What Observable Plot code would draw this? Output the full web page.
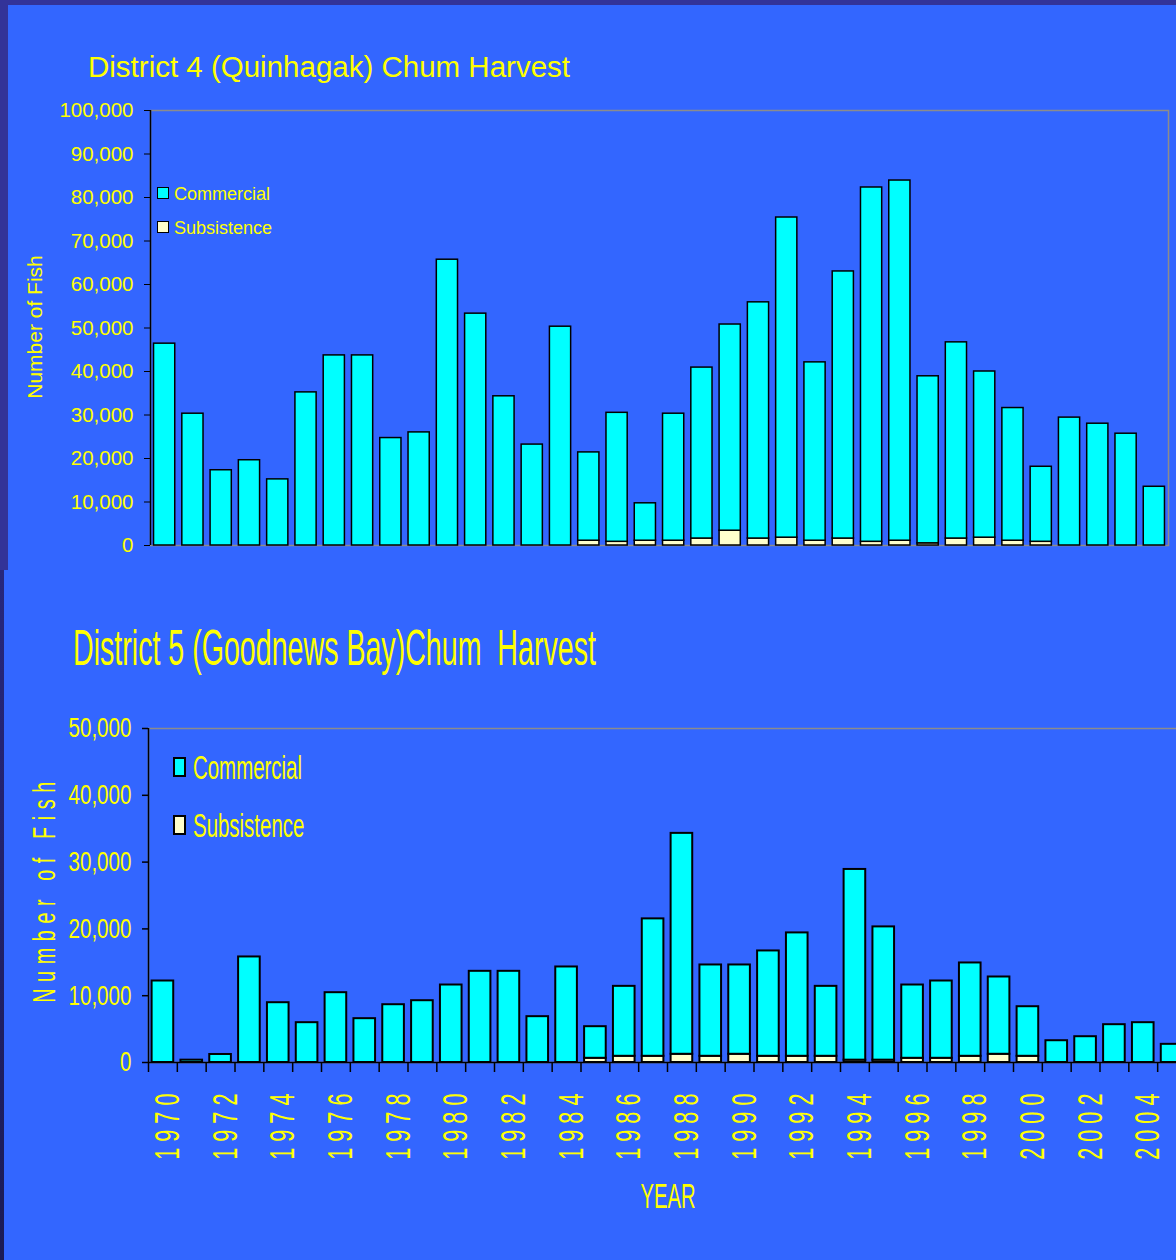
<!DOCTYPE html>
<html>
<head>
<meta charset="utf-8">
<script src="https://cdn.jsdelivr.net/npm/d3@7"></script>
<script src="https://cdn.jsdelivr.net/npm/@observablehq/plot@0.6"></script>
<style>
  html, body { margin: 0; padding: 0; }
  body { width: 1176px; height: 1260px; overflow: hidden; position: relative; background: #333399;
         font-family: "Liberation Sans", Arial, sans-serif; }
  #topPanel { position: absolute; left: 8px; top: 5px; width: 1168px; height: 565px; background: #3366FF; }
  #botStrip { position: absolute; left: 0; top: 570px; width: 4px; height: 690px; background: linear-gradient(#27277d, #1b1b55); }
  #botPanel { position: absolute; left: 4px; top: 570px; width: 1172px; height: 690px; background: #3366FF; }
  #c4 { position: absolute; left: 0; top: 0; }
  #c5 { position: absolute; left: 0; top: 570px; }
  .lbl { position: absolute; white-space: pre; color: #FFFF00; margin: 0; padding: 0; }
  .sw { position: absolute; box-sizing: border-box; border: 1px solid #000; }
</style>
</head>
<body>
<div id="topPanel"></div>
<div id="botStrip"></div>
<div id="botPanel"></div>
<div id="c4"></div>
<div id="c5"></div>
<script>
// ---------------- data ----------------
const years = [1970, 1971, 1972, 1973, 1974, 1975, 1976, 1977, 1978, 1979,
               1980, 1981, 1982, 1983, 1984, 1985, 1986, 1987, 1988, 1989,
               1990, 1991, 1992, 1993, 1994, 1995, 1996, 1997, 1998, 1999,
               2000, 2001, 2002, 2003, 2004, 2005];
const labelYears = [1970, 1972, 1974, 1976, 1978, 1980, 1982, 1984, 1986, 1988,
                    1990, 1992, 1994, 1996, 1998, 2000, 2002, 2004];
const types = ["Commercial", "Subsistence"];
const typeColors = ["#00FFFF", "#FFFFCC"];
const stackOrder = ["Subsistence", "Commercial"];

// District 4 (Quinhagak)
const d4Commercial = [46400, 30300, 17300, 19600, 15200, 35200, 43700, 43700, 24700, 26000,
                      65700, 53300, 34300, 23200, 50300, 20300, 29650, 8600, 29200, 39300,
                      47400, 54300, 73600, 41000, 61400, 81450, 82800, 38400, 45100, 38200,
                      30500, 17250, 29400, 28000, 25700, 13500];
const d4Subsistence = [0, 0, 0, 0, 0, 0, 0, 0, 0, 0,
                       0, 0, 0, 0, 0, 1100, 850, 1100, 1100, 1600,
                       3400, 1600, 1800, 1100, 1600, 850, 1100, 500, 1600, 1800,
                       1100, 850, 0, 0, 0, 0];
const d4Ticks = [0, 10000, 20000, 30000, 40000, 50000, 60000, 70000, 80000, 90000, 100000];

// District 5 (Goodnews Bay)
const d5Commercial = [12200, 350, 1200, 15800, 8950, 5960, 10450, 6560, 8650, 9250,
                      11600, 13650, 13650, 6860, 14300, 4730, 10470, 20570, 33070, 13670,
                      13370, 15770, 18470, 10470, 28550, 19950, 10970, 11570, 13970, 11570,
                      7420, 3260, 3860, 5660, 5960, 2720];
const d5Subsistence = [0, 0, 0, 0, 0, 0, 0, 0, 0, 0,
                       0, 0, 0, 0, 0, 630, 930, 930, 1230, 930,
                       1230, 930, 930, 930, 350, 350, 630, 630, 930, 1230,
                       930, 0, 0, 0, 0, 0];
const d5Ticks = [0, 10000, 20000, 30000, 40000, 50000];

const titles = ["District 4 (Quinhagak) Chum Harvest", "District 5 (Goodnews Bay)Chum  Harvest"];
const yTitle = "Number of Fish";
const xTitle = "YEAR";

// ---------------- helpers ----------------
function toLong(com, sub) {
  return years.flatMap((year, i) => [
    {year, type: "Subsistence", value: sub[i]},
    {year, type: "Commercial", value: com[i]}
  ]).filter(d => d.value > 0);
}
const fmt = d3.format(",");
const yearFmt = d3.format("d");
const FONT = "'Liberation Sans', Arial, sans-serif";

// narrow the glyphs of axis labels (the slide's text is condensed)
function squeeze(svg, which, sx, spacing) {
  svg.querySelectorAll(`g[aria-label="${which}"] text`).forEach(t => {
    const tr = t.getAttribute("transform") || "";
    t.setAttribute("transform", `${tr} scale(${sx},1)`);
    if (spacing) t.style.letterSpacing = spacing + "px";
  });
}

function addText(txt, {x, baseline, size, sx = 1, center = false, spacing = 0}) {
  const d = document.createElement("div");
  d.className = "lbl";
  d.textContent = txt;
  d.style.fontSize = size + "px";
  d.style.lineHeight = size + "px";
  d.style.top = (baseline - size * 0.8465) + "px";
  d.style.left = x + "px";
  if (spacing) d.style.letterSpacing = spacing + "px";
  if (center) {
    d.style.transformOrigin = "50% 0";
    d.style.transform = `translateX(-50%) scaleX(${sx})`;
  } else {
    d.style.transformOrigin = "0 0";
    d.style.transform = `scaleX(${sx})`;
  }
  document.body.appendChild(d);
}
function addRotated(txt, {cx, cy, size, sx = 1, spacing = 0}) {
  const d = document.createElement("div");
  d.className = "lbl";
  d.textContent = txt;
  d.style.fontSize = size + "px";
  d.style.lineHeight = size + "px";
  d.style.left = cx + "px";
  d.style.top = cy + "px";
  if (spacing) d.style.letterSpacing = spacing + "px";
  d.style.transform = `translate(-50%,-50%) rotate(-90deg) scaleX(${sx})`;
  document.body.appendChild(d);
}
function addSwatch(color, {x, y, w, h, bw}) {
  const s = document.createElement("div");
  s.className = "sw";
  Object.assign(s.style, {left: x + "px", top: y + "px", width: w + "px", height: h + "px",
                          background: color, borderWidth: bw + "px"});
  document.body.appendChild(s);
}

// ---------------- District 4 chart ----------------
{
  const W = 1176, H = 570, mL = 150, mR = 8;
  const step = (W - mL - mR) / years.length;
  const svg = Plot.plot({
    width: W, height: H,
    marginLeft: mL, marginRight: mR, marginTop: 110, marginBottom: 25,
    style: {background: "transparent", color: "black", fontFamily: FONT, maxWidth: "none", overflow: "visible"},
    x: {type: "band", domain: years, paddingInner: 0.25, paddingOuter: 0.125, round: false, axis: null},
    y: {domain: [0, 100000]},
    color: {domain: types, range: typeColors},
    marks: [
      Plot.frame({stroke: "#8c8c8c", strokeWidth: 1.5}),
      Plot.barY(toLong(d4Commercial, d4Subsistence), {
        x: "year", y: "value", fill: "type", order: stackOrder,
        stroke: "black", strokeWidth: 1.5
      }),
      Plot.ruleX([years[0]], {dx: -step / 2, stroke: "black", strokeWidth: 1.5}),
      Plot.axisY(d4Ticks, {
        anchor: "left", tickSize: 6, tickPadding: 11, tickFormat: fmt,
        stroke: "black", fill: "#FFFF00", fontSize: 20.5, label: null
      })
    ]
  });
  document.getElementById("c4").appendChild(svg);

  addText(titles[0], {x: 88, baseline: 77, size: 29.5});
  addRotated(yTitle, {cx: 33.5, cy: 326.5, size: 21});
  addSwatch(typeColors[0], {x: 157, y: 187, w: 12, h: 12, bw: 1});
  addSwatch(typeColors[1], {x: 157, y: 221, w: 12, h: 12, bw: 1});
  addText(types[0], {x: 174, baseline: 200, size: 18});
  addText(types[1], {x: 174, baseline: 234, size: 18});
}

// ---------------- District 5 chart ----------------
{
  const W = 1190, H = 690, mL = 148, mR = 4;
  const step = (W - mL - mR) / years.length;
  const svg = Plot.plot({
    width: W, height: H,
    marginLeft: mL, marginRight: mR, marginTop: 158, marginBottom: 198,
    style: {background: "transparent", color: "black", fontFamily: FONT, maxWidth: "none", overflow: "visible"},
    x: {type: "band", domain: years, paddingInner: 0.25, paddingOuter: 0.125, round: false},
    y: {domain: [0, 50000]},
    color: {domain: types, range: typeColors},
    marks: [
      Plot.frame({stroke: "#8c8c8c", strokeWidth: 1.5}),
      Plot.barY(toLong(d5Commercial, d5Subsistence), {
        x: "year", y: "value", fill: "type", order: stackOrder,
        stroke: "black", strokeWidth: 2
      }),
      Plot.ruleY([0], {stroke: "black", strokeWidth: 1.5}),
      Plot.ruleX([years[0]], {dx: -step / 2, stroke: "black", strokeWidth: 1.5}),
      Plot.axisX(years, {
        tickSize: 10, tickFormat: () => "", dx: -step / 2,
        stroke: "black", strokeWidth: 1.5, label: null
      }),
      Plot.axisX(labelYears, {
        tickSize: 0, tickPadding: 25, tickRotate: -90, textAnchor: "end", dx: 5,
        tickFormat: yearFmt, fill: "#FFFF00", fontSize: 35, label: null
      }),
      Plot.axisY(d5Ticks, {
        anchor: "left", tickSize: 6, tickPadding: 11, tickFormat: fmt,
        stroke: "black", strokeWidth: 1.5, fill: "#FFFF00", fontSize: 28, label: null
      })
    ]
  });
  squeeze(svg, "y-axis tick label", 0.736, 0);
  squeeze(svg, "x-axis tick label", 0.62, 9.7);
  document.getElementById("c5").appendChild(svg);

  addText(titles[1], {x: 73, baseline: 665, size: 50, sx: 0.572});
  addRotated(yTitle, {cx: 44, cy: 889, size: 32, sx: 0.62, spacing: 10.6});
  addSwatch(typeColors[0], {x: 173, y: 757, w: 13, h: 20, bw: 2});
  addSwatch(typeColors[1], {x: 173, y: 815, w: 13, h: 20, bw: 2});
  addText(types[0], {x: 193, baseline: 779, size: 33.5, sx: 0.61});
  addText(types[1], {x: 193, baseline: 837, size: 33.5, sx: 0.61});
  addText(xTitle, {x: 668, baseline: 1208, size: 35, sx: 0.577, center: true});
}
</script>
</body>
</html>
